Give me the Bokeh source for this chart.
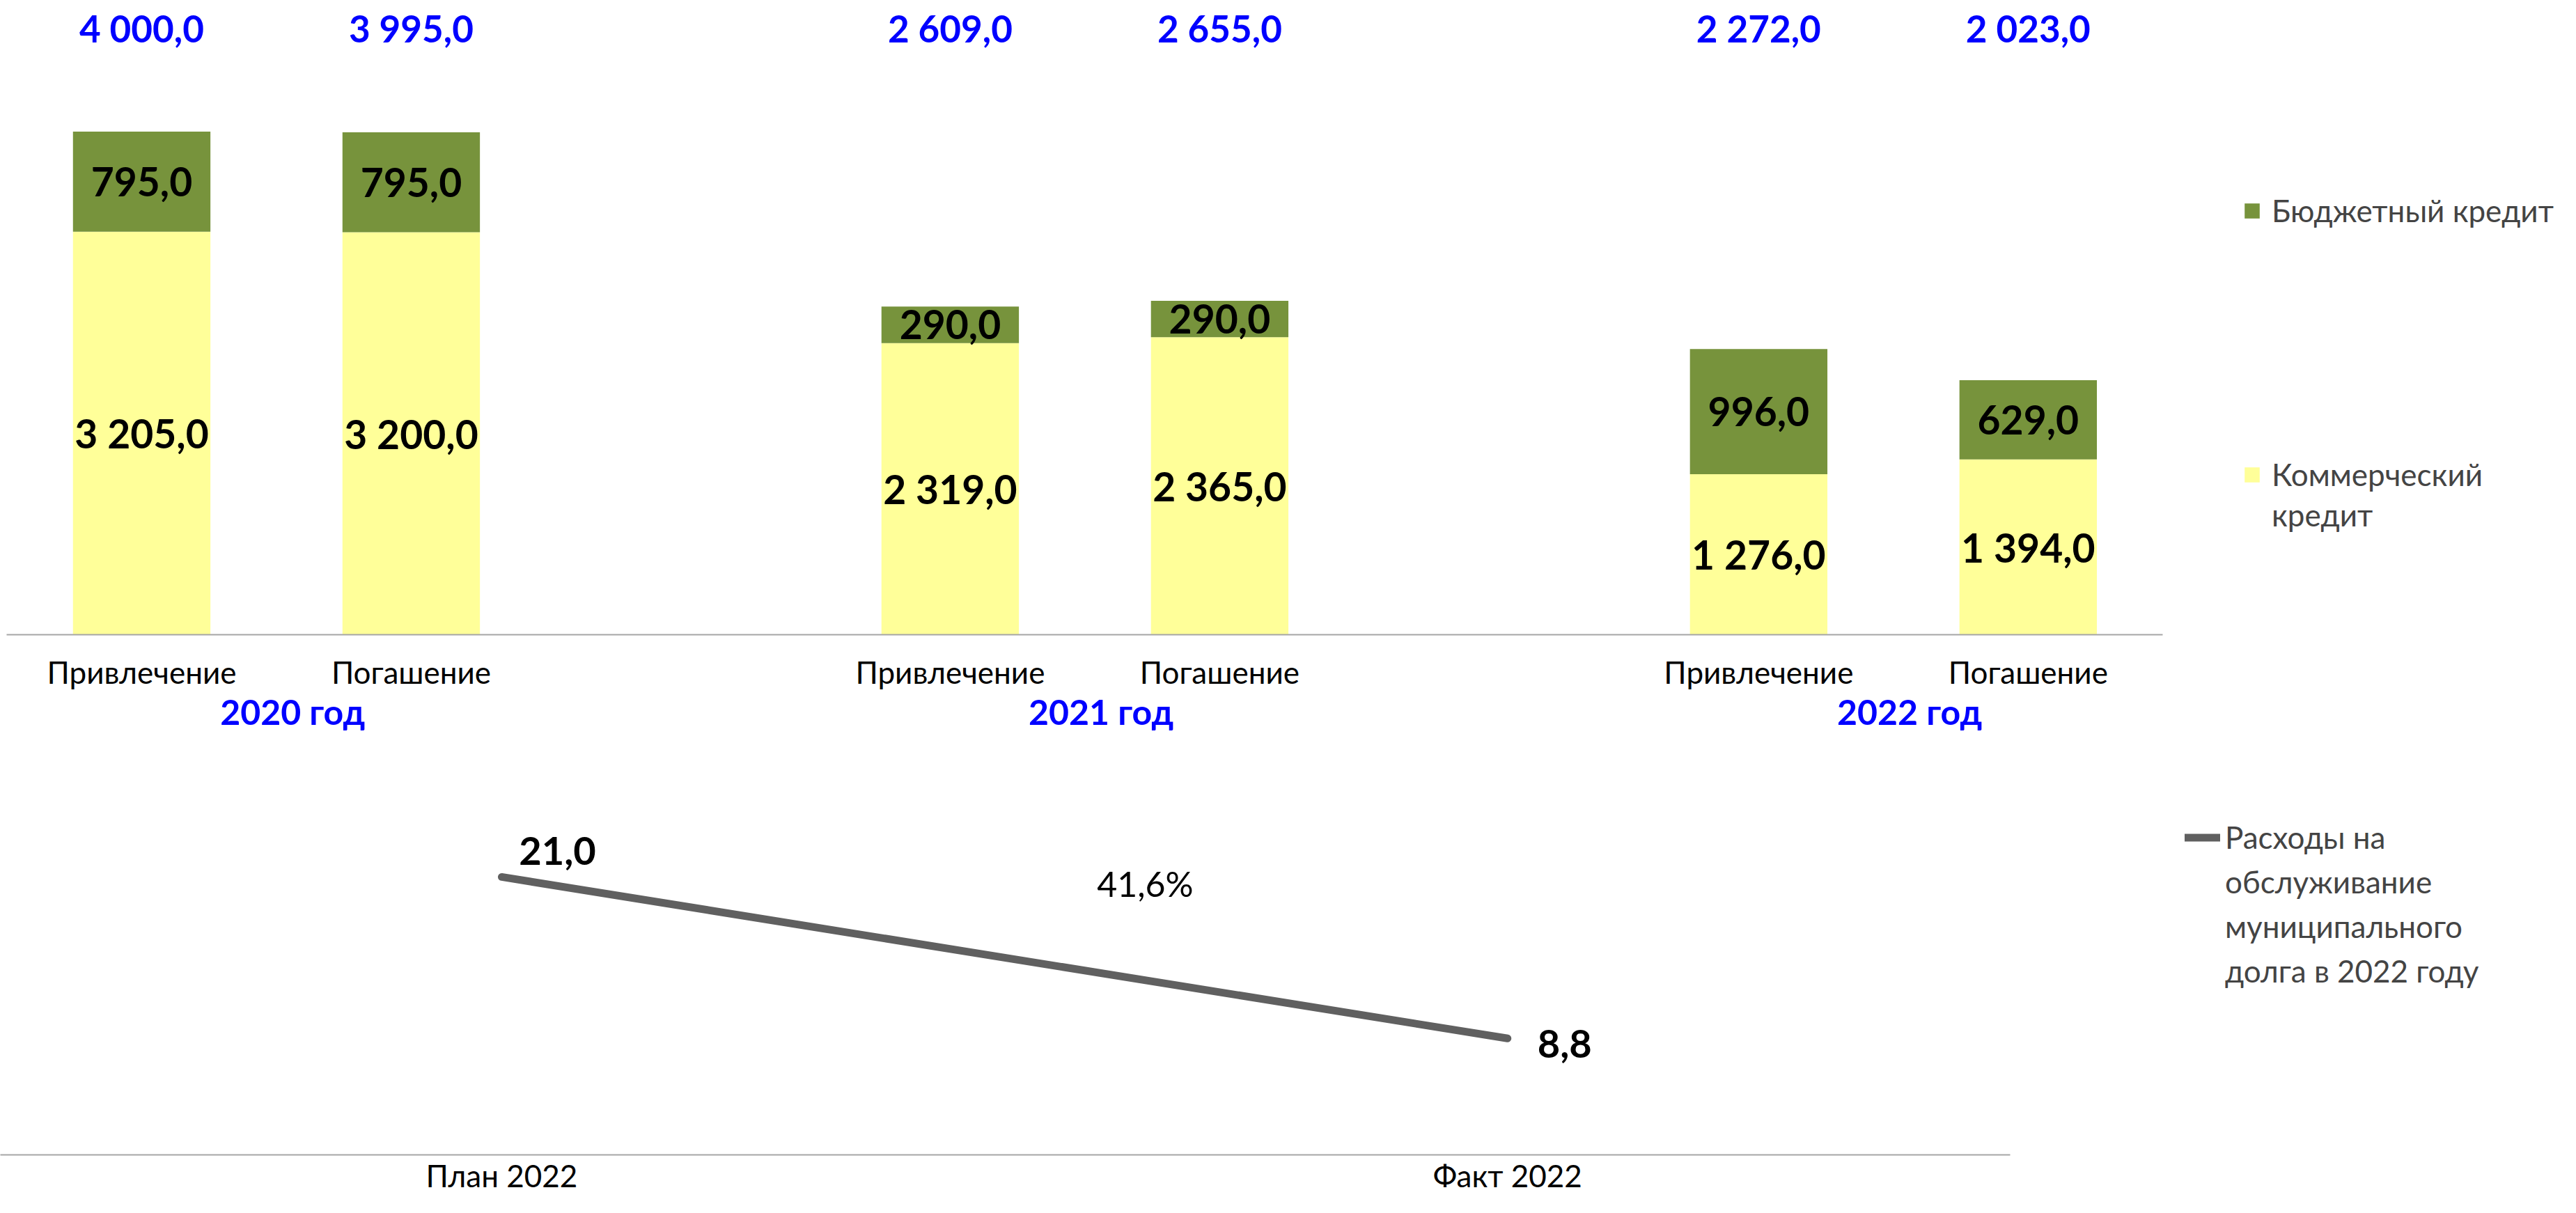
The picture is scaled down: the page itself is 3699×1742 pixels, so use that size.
from bokeh.plotting import figure
from bokeh.models import Range1d, Legend, LegendItem, ColumnDataSource, FixedTicker, LinearAxis
from bokeh.layouts import column
from bokeh.embed import file_html
from bokeh.resources import INLINE
from bokeh.core.properties import value

# ---------------- data ----------------
years = ["2020 год", "2021 год", "2022 год"]
operations = ["Привлечение", "Погашение"]
commercial = [3205.0, 3200.0, 2319.0, 2365.0, 1276.0, 1394.0]
budget = [795.0, 795.0, 290.0, 290.0, 996.0, 629.0]
totals = [4000.0, 3995.0, 2609.0, 2655.0, 2272.0, 2023.0]

service_cats = ["План 2022", "Факт 2022"]
service_vals = [21.0, 8.8]
service_pct = "41,6%"

FONT = "Lato"
GREEN = "#77933C"
YELLOW = "#FFFF99"
BLUE = "#0000FF"
GREY_LINE = "#606060"
AXIS_GREY = "#A6A6A6"
YEAR_SHIFT = 0.06   # year captions sit slightly right of the group centre


def fmt(v):
    return f"{v:,.1f}".replace(",", " ").replace(".", ",")


# ---------------- top chart ----------------
# slot positions: two operations per year, one empty slot between years
xpos = [g * 3 + k for g in range(len(years)) for k in range(len(operations))]
op_labels = [operations[k] for g in range(len(years)) for k in range(len(operations))]
group_centers = [g * 3 + (len(operations) - 1) / 2 + YEAR_SHIFT for g in range(len(years))]

src = ColumnDataSource(dict(
    x=xpos,
    commercial=commercial,
    budget=budget,
    c_mid=[c / 2 for c in commercial],
    b_mid=[c + b / 2 for c, b in zip(commercial, budget)],
    c_lbl=[fmt(v) for v in commercial],
    b_lbl=[fmt(v) for v in budget],
    t_lbl=[fmt(v) for v in totals],
    t_y=[4820.0] * len(totals),
))

p = figure(x_range=Range1d(-0.5245, 8.985), y_range=Range1d(0, 5044), width=3680, height=1102,
           output_backend="svg", toolbar_location=None,
           min_border_left=0, min_border_right=0, min_border_top=0, min_border_bottom=191)

bars = p.vbar_stack(["commercial", "budget"], x="x", width=0.51, source=src,
                    fill_color=[YELLOW, GREEN], line_color=None)

for ycol, tcol in (("c_mid", "c_lbl"), ("b_mid", "b_lbl")):
    p.text(x="x", y=ycol, text=tcol, source=src, text_font=value(FONT),
           text_font_size="57px", text_font_style="bold", text_color="black",
           text_align="center", text_baseline="middle")
p.text(x="x", y="t_y", text="t_lbl", source=src, text_font=value(FONT),
       text_font_size="53px", text_font_style="bold", text_color=BLUE,
       text_align="center", text_baseline="middle")

p.yaxis.visible = False
p.xgrid.visible = False
p.ygrid.visible = False
p.outline_line_color = None

ax = p.xaxis[0]
ax.ticker = FixedTicker(ticks=xpos)
ax.major_label_overrides = {x: lbl for x, lbl in zip(xpos, op_labels)}
ax.bounds = (-0.5, xpos[-1] + 0.5)
ax.axis_line_color = AXIS_GREY
ax.axis_line_width = 2
ax.major_tick_line_color = None
ax.minor_tick_line_color = None
ax.major_label_text_font = FONT
ax.major_label_text_font_size = "44px"
ax.major_label_text_color = "black"
ax.major_label_standoff = 21

ax2 = LinearAxis(ticker=FixedTicker(ticks=group_centers),
                 major_label_overrides={x: y for x, y in zip(group_centers, years)})
ax2.axis_line_color = None
ax2.major_tick_line_color = None
ax2.minor_tick_line_color = None
ax2.major_label_text_font = FONT
ax2.major_label_text_font_size = "50px"
ax2.major_label_text_font_style = "bold"
ax2.major_label_text_color = BLUE
ax2.major_label_standoff = -8
p.add_layout(ax2, "below")

legA = Legend(items=[LegendItem(label="Бюджетный кредит", renderers=[bars[1]])],
              location=(3220, 583), margin=0, padding=0,
              glyph_width=27, glyph_height=27, label_standoff=15,
              label_text_font=FONT, label_text_font_size="44px",
              border_line_color=None, background_fill_alpha=0)
legB = Legend(items=[LegendItem(label="Коммерческий", renderers=[bars[0]]),
                     LegendItem(label="кредит", renderers=[])],
              location=(3220, 146), margin=0, padding=0, spacing=6,
              glyph_width=27, glyph_height=27, label_standoff=15,
              label_text_font=FONT, label_text_font_size="44px",
              border_line_color=None, background_fill_alpha=0)
p.add_layout(legA)
p.add_layout(legB)

# ---------------- bottom chart ----------------
sx = list(range(len(service_cats)))
ssrc = ColumnDataSource(dict(x=sx, y=service_vals,
                             lbl=[fmt(v) for v in service_vals],
                             dx=[80, 82], dy=[-37, 8]))
q = figure(x_range=Range1d(-0.4985, 2.0495), y_range=Range1d(0, 26.1),
           width=3680, height=636, output_backend="svg", toolbar_location=None,
           min_border_left=0, min_border_right=0, min_border_top=60, min_border_bottom=80)
ln = q.line(x="x", y="y", source=ssrc, line_width=11, line_color=GREY_LINE, line_cap="round")
q.text(x="x", y="y", text="lbl", source=ssrc, x_offset="dx", y_offset="dy",
       text_font=value(FONT), text_font_size="56px", text_font_style="bold",
       text_color="black", text_align="center", text_baseline="middle")
q.text(x=[sx[0]], y=[service_vals[0]], text=[service_pct], x_offset=924, y_offset=10,
       text_font=value(FONT), text_font_size="50px", text_color="black",
       text_align="center", text_baseline="middle")

q.yaxis.visible = False
q.xgrid.visible = False
q.ygrid.visible = False
q.outline_line_color = None
bx = q.xaxis[0]
bx.ticker = FixedTicker(ticks=sx)
bx.major_label_overrides = {x: c for x, c in zip(sx, service_cats)}
bx.bounds = (-0.5, sx[-1] + 0.5)
bx.axis_line_color = AXIS_GREY
bx.axis_line_width = 2
bx.major_tick_line_color = None
bx.minor_tick_line_color = None
bx.major_label_text_font = FONT
bx.major_label_text_font_size = "44px"
bx.major_label_text_color = "black"
bx.major_label_standoff = -3

legC = Legend(items=[LegendItem(label="Расходы на", renderers=[ln]),
                     LegendItem(label="обслуживание", renderers=[]),
                     LegendItem(label="муниципального", renderers=[]),
                     LegendItem(label="долга в 2022 году", renderers=[])],
              location=(3137, 238), margin=0, padding=0, spacing=12,
              glyph_width=51, glyph_height=27, label_standoff=7,
              label_text_font=FONT, label_text_font_size="44px",
              border_line_color=None, background_fill_alpha=0)
q.add_layout(legC)

layout = column(p, q, spacing=0)
open("out.html", "w").write(file_html(layout, INLINE))
